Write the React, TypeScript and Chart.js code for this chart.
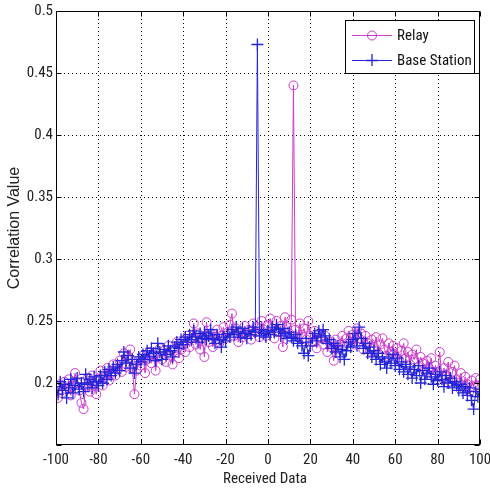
import React, { useEffect, useRef } from 'react';
import { Chart, registerables } from 'chart.js';

Chart.register(...registerables);

// Received data index (x axis): -100 .. 100
const receivedData: number[] = Array.from({ length: 201 }, (_, i) => i - 100);

// Relay correlation values (x = -100 .. 100)
const relayValues: number[] = [
  0.196, 0.188, 0.199, 0.192, 0.201, 0.195, 0.203, 0.190, 0.198, 0.208,
  0.200, 0.194, 0.184, 0.179, 0.197, 0.204, 0.193, 0.206, 0.199, 0.191,
  0.203, 0.210, 0.198, 0.205, 0.212, 0.202, 0.208, 0.215, 0.206, 0.211,
  0.218, 0.209, 0.224, 0.213, 0.220, 0.227, 0.212, 0.191, 0.210, 0.218,
  0.214, 0.222, 0.208, 0.219, 0.225, 0.216, 0.223, 0.210, 0.221, 0.228,
  0.219, 0.226, 0.217, 0.230, 0.222, 0.215, 0.228, 0.233, 0.220, 0.227,
  0.234, 0.225, 0.238, 0.229, 0.236, 0.248, 0.231, 0.240, 0.227, 0.236,
  0.221, 0.249, 0.233, 0.240, 0.229, 0.237, 0.243, 0.232, 0.238, 0.245,
  0.236, 0.241, 0.247, 0.256, 0.238, 0.244, 0.233, 0.240, 0.237, 0.246,
  0.239, 0.243, 0.235, 0.248, 0.241, 0.245, 0.237, 0.250, 0.243, 0.238,
  0.247, 0.252, 0.244, 0.236, 0.250, 0.241, 0.246, 0.229, 0.253, 0.245,
  0.240, 0.251, 0.440, 0.243, 0.237, 0.248, 0.239, 0.244, 0.235, 0.250,
  0.238, 0.233, 0.242, 0.228, 0.240, 0.236, 0.231, 0.238, 0.225, 0.233,
  0.229, 0.218, 0.235, 0.227, 0.231, 0.238, 0.230, 0.236, 0.242, 0.233,
  0.239, 0.231, 0.244, 0.236, 0.240, 0.227, 0.238, 0.232, 0.226, 0.235,
  0.229, 0.237, 0.224, 0.231, 0.236, 0.227, 0.222, 0.232, 0.225, 0.230,
  0.221, 0.228, 0.218, 0.226, 0.232, 0.220, 0.225, 0.215, 0.223, 0.219,
  0.227, 0.213, 0.221, 0.216, 0.210, 0.218, 0.212, 0.220, 0.207, 0.214,
  0.209, 0.225, 0.204, 0.212, 0.206, 0.217, 0.201, 0.209, 0.214, 0.203,
  0.200, 0.208, 0.196, 0.205, 0.199, 0.193, 0.202, 0.197, 0.204, 0.198, 0.203,
];

// Base station correlation values (x = -100 .. 100)
const baseStationValues: number[] = [
  0.197, 0.191, 0.201, 0.194, 0.199, 0.188, 0.196, 0.203, 0.192, 0.198,
  0.204, 0.195, 0.200, 0.193, 0.207, 0.199, 0.203, 0.196, 0.205, 0.201,
  0.198, 0.206, 0.200, 0.209, 0.203, 0.211, 0.206, 0.213, 0.208, 0.215,
  0.210, 0.218, 0.225, 0.216, 0.222, 0.212, 0.219, 0.208, 0.215, 0.221,
  0.217, 0.223, 0.219, 0.226, 0.221, 0.228, 0.224, 0.218, 0.232, 0.225,
  0.219, 0.227, 0.223, 0.230, 0.226, 0.221, 0.229, 0.233, 0.228, 0.235,
  0.231, 0.237, 0.233, 0.239, 0.235, 0.242, 0.237, 0.233, 0.240, 0.236,
  0.241, 0.235, 0.238, 0.243, 0.236, 0.232, 0.239, 0.235, 0.229, 0.237,
  0.234, 0.240, 0.237, 0.243, 0.239, 0.245, 0.241, 0.237, 0.244, 0.240,
  0.236, 0.242, 0.239, 0.245, 0.241, 0.473, 0.238, 0.243, 0.240, 0.237,
  0.242, 0.239, 0.245, 0.241, 0.247, 0.243, 0.238, 0.244, 0.240, 0.236,
  0.241, 0.237, 0.234, 0.239, 0.232, 0.236, 0.230, 0.224, 0.233, 0.222,
  0.230, 0.236, 0.240, 0.234, 0.242, 0.237, 0.243, 0.238, 0.232, 0.235,
  0.228, 0.232, 0.225, 0.230, 0.221, 0.227, 0.219, 0.226, 0.233, 0.229,
  0.235, 0.240, 0.230, 0.245, 0.236, 0.228, 0.232, 0.224, 0.229, 0.221,
  0.226, 0.219, 0.224, 0.215, 0.221, 0.217, 0.212, 0.220, 0.216, 0.223,
  0.214, 0.220, 0.211, 0.217, 0.209, 0.215, 0.207, 0.213, 0.204, 0.211,
  0.206, 0.214, 0.200, 0.210, 0.203, 0.208, 0.212, 0.205, 0.199, 0.207,
  0.202, 0.209, 0.203, 0.197, 0.206, 0.200, 0.204, 0.196, 0.201, 0.198,
  0.194, 0.199, 0.192, 0.197, 0.190, 0.196, 0.186, 0.179, 0.193, 0.189, 0.195,
];

const seriesNames: string[] = ['Relay', 'Base Station'];
const xTitle = 'Received Data';
const yTitle = 'Correlation Value';

const RELAY_COLOR = '#cc3ccc';
const BASE_COLOR = '#2424d8';
const FONT = "'Roboto Condensed', Roboto, 'Liberation Sans', sans-serif";

const matlabPlugin = {
  id: 'matlabDecor',
  beforeDatasetsDraw(chart: any) {
    const { ctx, chartArea: a, scales } = chart;
    ctx.save();
    ctx.strokeStyle = '#000';
    ctx.lineWidth = 1;
    ctx.setLineDash([1, 3]);
    scales.x.ticks.forEach((t: any) => {
      const px = Math.round(scales.x.getPixelForValue(t.value)) + 0.5;
      if (px <= a.left + 1 || px >= a.right - 1) return;
      ctx.beginPath();
      ctx.moveTo(px, a.top);
      ctx.lineTo(px, a.bottom);
      ctx.stroke();
    });
    scales.y.ticks.forEach((t: any) => {
      const py = Math.round(scales.y.getPixelForValue(t.value)) + 0.5;
      if (py <= a.top + 1 || py >= a.bottom - 1) return;
      ctx.beginPath();
      ctx.moveTo(a.left, py);
      ctx.lineTo(a.right, py);
      ctx.stroke();
    });
    ctx.restore();
  },
  afterDraw(chart: any) {
    const { ctx, chartArea: a, scales } = chart;
    ctx.save();
    // frame
    ctx.setLineDash([]);
    ctx.strokeStyle = '#000';
    ctx.lineWidth = 1;
    const L = Math.round(a.left) + 0.5;
    const R = Math.round(a.right) - 0.5;
    const T = Math.round(a.top) + 0.5;
    const B = Math.round(a.bottom) - 0.5;
    ctx.strokeRect(L, T, R - L, B - T);
    // inward tick marks
    const tl = 5;
    ctx.beginPath();
    scales.x.ticks.forEach((t: any) => {
      const px = Math.round(scales.x.getPixelForValue(t.value)) + 0.5;
      ctx.moveTo(px, B);
      ctx.lineTo(px, B - tl);
      ctx.moveTo(px, T);
      ctx.lineTo(px, T + tl);
    });
    scales.y.ticks.forEach((t: any) => {
      const py = Math.round(scales.y.getPixelForValue(t.value)) + 0.5;
      ctx.moveTo(L, py);
      ctx.lineTo(L + tl, py);
      ctx.moveTo(R, py);
      ctx.lineTo(R - tl, py);
    });
    ctx.stroke();

    // axis titles
    ctx.fillStyle = '#222';
    ctx.font = `15px ${FONT}`;
    ctx.textAlign = 'center';
    ctx.textBaseline = 'middle';
    ctx.fillText(xTitle, (a.left + a.right) / 2 - 3, 479);
    ctx.save();
    ctx.translate(15, 228);
    ctx.rotate(-Math.PI / 2);
    ctx.font = "16px 'Liberation Sans', Arial, sans-serif";
    ctx.fillText(yTitle, 0, 0);
    ctx.restore();

    // legend box
    const bx = 345.5, by = 20.5, bw = 129, bh = 53;
    ctx.fillStyle = '#fff';
    ctx.fillRect(bx, by, bw, bh);
    ctx.strokeStyle = '#000';
    ctx.strokeRect(bx, by, bw, bh);
    const entries = [
      { name: seriesNames[0], color: RELAY_COLOR, y: 35, marker: 'circle' },
      { name: seriesNames[1], color: BASE_COLOR, y: 60, marker: 'cross' },
    ];
    entries.forEach((e) => {
      ctx.strokeStyle = e.color;
      ctx.lineWidth = 1;
      ctx.beginPath();
      ctx.moveTo(352, e.y + 0.5);
      ctx.lineTo(392, e.y + 0.5);
      ctx.stroke();
      ctx.beginPath();
      if (e.marker === 'circle') {
        ctx.arc(372, e.y + 0.5, 4.5, 0, Math.PI * 2);
      } else {
        ctx.lineWidth = 1.3;
        ctx.moveTo(372, e.y - 6);
        ctx.lineTo(372, e.y + 6);
        ctx.moveTo(366, e.y + 0.5);
        ctx.lineTo(378, e.y + 0.5);
      }
      ctx.stroke();
      ctx.fillStyle = '#111';
      ctx.font = `15px ${FONT}`;
      ctx.textAlign = 'left';
      ctx.textBaseline = 'middle';
      ctx.fillText(e.name, 397, e.y + 1);
    });
    ctx.restore();
  },
};

export default function App() {
  const canvasRef = useRef<HTMLCanvasElement | null>(null);

  useEffect(() => {
    document.body.style.margin = '0';
    const canvas = canvasRef.current;
    if (!canvas) return;
    const relayPts = receivedData.map((x, i) => ({ x, y: relayValues[i] }));
    const basePts = receivedData.map((x, i) => ({ x, y: baseStationValues[i] }));
    const chart = new Chart(canvas, {
      type: 'line',
      data: {
        datasets: [
          {
            label: seriesNames[0],
            data: relayPts,
            borderColor: RELAY_COLOR,
            backgroundColor: 'rgba(0,0,0,0)',
            borderWidth: 1,
            pointStyle: 'circle',
            pointRadius: 4.5,
            pointBorderWidth: 1,
            pointBorderColor: RELAY_COLOR,
            pointBackgroundColor: 'rgba(0,0,0,0)',
            tension: 0,
            fill: false,
            order: 1,
          },
          {
            label: seriesNames[1],
            data: basePts,
            borderColor: BASE_COLOR,
            backgroundColor: 'rgba(0,0,0,0)',
            borderWidth: 1,
            pointStyle: 'cross',
            pointRadius: 6,
            pointBorderWidth: 1.3,
            pointBorderColor: BASE_COLOR,
            pointBackgroundColor: 'rgba(0,0,0,0)',
            tension: 0,
            fill: false,
            order: 0,
          },
        ],
      },
      options: {
        responsive: false,
        animation: false,
        devicePixelRatio: 1,
        layout: { padding: { top: 11, right: 10, left: 0, bottom: 0 } },
        plugins: {
          legend: { display: false },
          tooltip: { enabled: false },
        },
        scales: {
          x: {
            type: 'linear',
            min: -100,
            max: 100,
            grid: { display: false, drawTicks: false },
            border: { display: false },
            ticks: {
              stepSize: 20,
              padding: 6,
              color: '#222',
              font: { family: FONT, size: 15 },
              maxRotation: 0,
              autoSkip: false,
            },
            afterFit: (s: any) => {
              s.height = 46;
              s.paddingLeft = 0;
              s.paddingRight = 0;
            },
          },
          y: {
            type: 'linear',
            min: 0.15,
            max: 0.5,
            grid: { display: false, drawTicks: false },
            border: { display: false },
            ticks: {
              stepSize: 0.05,
              padding: 3,
              color: '#222',
              font: { family: FONT, size: 15 },
              callback: (v: any) => {
                const n = Number(v);
                if (Math.abs(n - 0.15) < 1e-6) return '';
                return String(Math.round(n * 100) / 100);
              },
            },
            afterFit: (s: any) => {
              s.width = 56;
              s.paddingTop = 0;
              s.paddingBottom = 0;
            },
          },
        },
      },
      plugins: [matlabPlugin],
    } as any);
    return () => chart.destroy();
  }, []);

  return <canvas ref={canvasRef} width={490} height={491} style={{ display: 'block' }} />;
}
